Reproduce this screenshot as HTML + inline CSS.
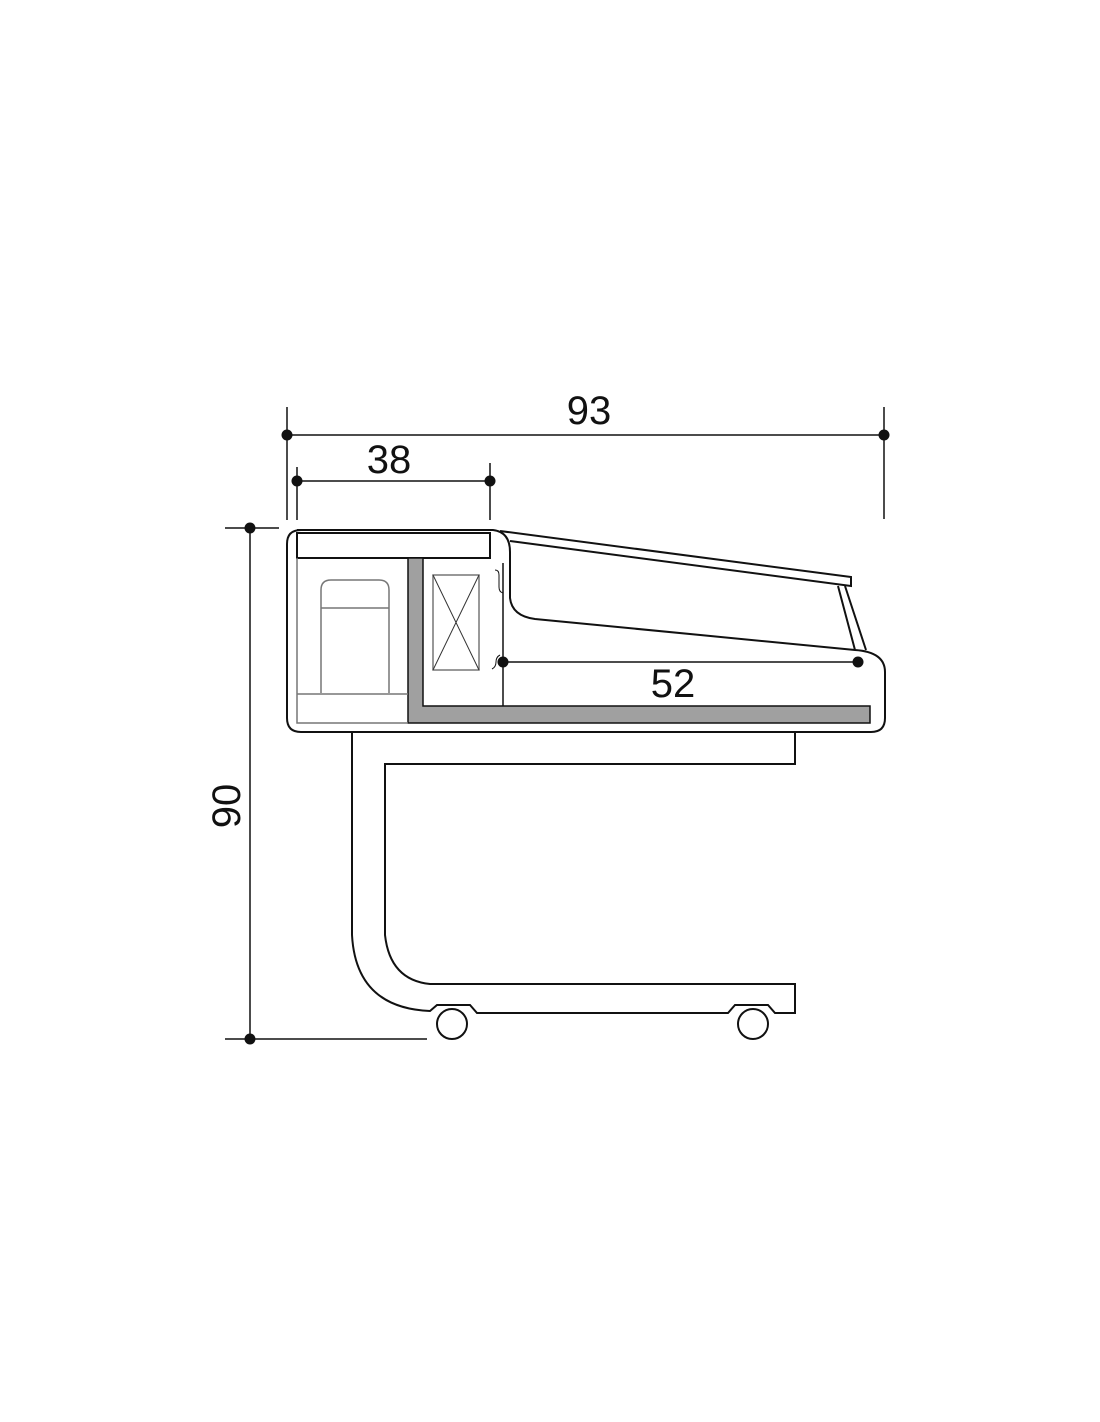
<!DOCTYPE html>
<html><head><meta charset="utf-8"><style>html,body{margin:0;padding:0;background:#fff}svg{display:block}</style></head>
<body>
<svg width="1100" height="1422" viewBox="0 0 1100 1422" xmlns="http://www.w3.org/2000/svg">
<g stroke="#111" stroke-width="1.5" fill="none">
<!-- dimension 93 -->
<line x1="287" y1="407" x2="287" y2="520"/>
<line x1="884" y1="407" x2="884" y2="519"/>
<line x1="287" y1="435" x2="884" y2="435"/>
<!-- 38 -->
<line x1="297" y1="467" x2="297" y2="520"/>
<line x1="490" y1="463" x2="490" y2="520"/>
<line x1="297" y1="481" x2="490" y2="481"/>
<!-- 90 -->
<line x1="250" y1="528" x2="250" y2="1039"/>
<line x1="225" y1="528" x2="279" y2="528"/>
<line x1="225" y1="1039" x2="427" y2="1039"/>
<!-- 52 -->
<line x1="503" y1="662" x2="858" y2="662"/>
</g>
<g fill="#111">
<circle cx="287" cy="435" r="5.5"/><circle cx="884" cy="435" r="5.5"/>
<circle cx="297" cy="481" r="5.5"/><circle cx="490" cy="481" r="5.5"/>
<circle cx="250" cy="528" r="5.5"/><circle cx="250" cy="1039" r="5.5"/>
<circle cx="503" cy="662" r="5.5"/><circle cx="858" cy="662" r="5.5"/>
</g>
<g font-family="Liberation Sans, sans-serif" font-size="40" fill="#111" text-anchor="middle">
<text x="589" y="424">93</text>
<text x="389" y="473">38</text>
<text x="673" y="697">52</text>
<text transform="translate(240,806) rotate(-90)">90</text>
</g>
<!-- body -->
<g stroke="#111" stroke-width="2" fill="none">
<path d="M297,530 H493 Q510,532 510,552 V598 Q512,616 535,619 L855,650 Q885,652 885,672 V718 Q885,732 871,732 H301 Q287,732 287,718 V544 Q287,530 301,530 Z"/>
<rect x="297" y="533" width="193" height="25"/>
<!-- glass -->
<path d="M500,531 L851,577 V586 L510,541"/>
<path d="M838,586 L855,650 M845,586 L866,650"/>
<line x1="503" y1="563" x2="503" y2="706" stroke-width="1.5"/>
<path d="M495,570 q4,0 4,5 v12 q0,5 4,6" stroke-width="1"/>
<path d="M500,655 q-4,2 -4,7 q0,5 -4,7" stroke-width="1"/>
</g>
<!-- grey wall -->
<path d="M408,558 H423 V706 H870 V723 H408 Z" fill="#a0a0a0" stroke="#111" stroke-width="1.5"/>
<g stroke="#777" stroke-width="1.5" fill="none">
<path d="M297,558 V723 H408"/>
<line x1="297" y1="694" x2="408" y2="694"/>
<path d="M321,693 V590 Q321,580 331,580 H379 Q389,580 389,590 V693"/>
<line x1="321" y1="608" x2="389" y2="608"/>
<rect x="433" y="575" width="46" height="95"/>
<path d="M433,575 L479,670 M479,575 L433,670" stroke="#333" stroke-width="1"/>
</g>
<!-- stand -->
<g stroke="#111" stroke-width="2" fill="none">
<path d="M352,732 V935 Q356,1008 430,1011 L437,1005 H470 L477,1013 H728 L735,1005 H768 L775,1013 H795 V984 H430 Q390,980 385,935 V764 H795 V732"/>
<circle cx="452" cy="1024" r="15"/>
<circle cx="753" cy="1024" r="15"/>
</g>
</svg>
</body></html>
